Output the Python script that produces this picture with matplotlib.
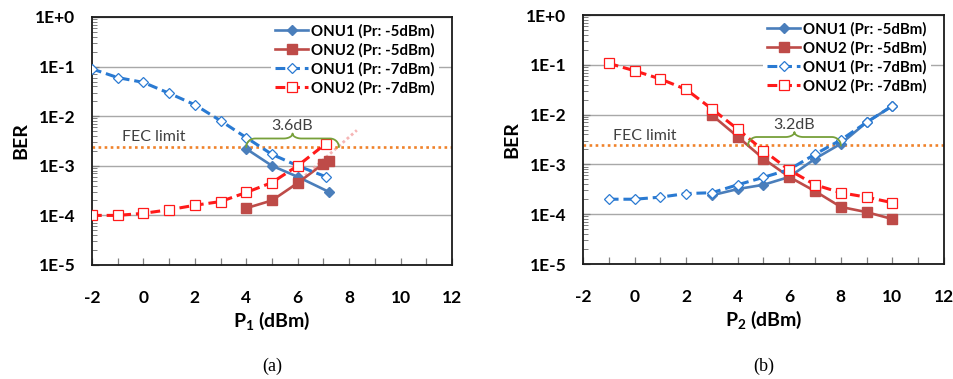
import numpy as np
import matplotlib
matplotlib.use("Agg")
import matplotlib.pyplot as plt
from matplotlib.ticker import MultipleLocator, LogLocator, NullFormatter, FixedLocator, FixedFormatter

plt.rcParams['font.family'] = ['Lato', 'DejaVu Sans']
plt.rcParams['mathtext.fontset'] = 'custom'
plt.rcParams['mathtext.bf'] = 'Lato:bold'
plt.rcParams['mathtext.rm'] = 'Lato'
plt.rcParams['axes.unicode_minus'] = False

# ---------------- data: panel (a) ----------------
a_onu1_p5_x = [4, 5, 6, 7.2]
a_onu1_p5_ber = [2.2e-3, 1.0e-3, 6.0e-4, 3.0e-4]
a_onu2_p5_x = [4, 5, 6, 7, 7.2]
a_onu2_p5_ber = [1.4e-4, 2.0e-4, 4.5e-4, 1.1e-3, 1.25e-3]
a_onu1_p7_x = [-2, -1, 0, 1, 2, 3, 4, 5, 6, 7.1]
a_onu1_p7_ber = [9.0e-2, 6.0e-2, 4.8e-2, 2.9e-2, 1.7e-2, 8.1e-3, 3.7e-3, 1.7e-3, 1.0e-3, 6.0e-4]
a_onu2_p7_x = [-2, -1, 0, 1, 2, 3, 4, 5, 6, 7.1]
a_onu2_p7_ber = [1.0e-4, 1.0e-4, 1.1e-4, 1.3e-4, 1.6e-4, 1.9e-4, 2.9e-4, 4.6e-4, 1.0e-3, 2.8e-3]
a_trend_x = [5.8, 8.3]
a_trend_ber = [3.8e-4, 5.2e-3]
a_penalty_span = (4.0, 7.6)
a_penalty_label = "3.6dB"

# ---------------- data: panel (b) ----------------
b_onu1_p5_x = [3, 4, 5, 6, 7, 8, 9, 10]
b_onu1_p5_ber = [2.4e-4, 3.2e-4, 3.9e-4, 5.6e-4, 1.3e-3, 2.6e-3, 7.0e-3, 1.5e-2]
b_onu2_p5_x = [3, 4, 5, 6, 7, 8, 9, 10]
b_onu2_p5_ber = [9.8e-3, 3.6e-3, 1.3e-3, 5.6e-4, 2.9e-4, 1.4e-4, 1.1e-4, 8.0e-5]
b_onu1_p7_x = [-1, 0, 1, 2, 3, 4, 5, 6, 7, 8, 9, 10]
b_onu1_p7_ber = [2.0e-4, 2.0e-4, 2.2e-4, 2.6e-4, 2.7e-4, 3.9e-4, 5.5e-4, 7.9e-4, 1.6e-3, 3.1e-3, 7.0e-3, 1.5e-2]
b_onu2_p7_x = [-1, 0, 1, 2, 3, 4, 5, 6, 7, 8, 9, 10]
b_onu2_p7_ber = [1.07e-1, 7.6e-2, 5.2e-2, 3.2e-2, 1.3e-2, 5.1e-3, 1.9e-3, 7.7e-4, 3.9e-4, 2.7e-4, 2.2e-4, 1.7e-4]
b_penalty_span = (4.4, 8.0)
b_penalty_label = "3.2dB"

fec_limit = 2.4e-3
series_labels = ["ONU1 (Pr: -5dBm)", "ONU2 (Pr: -5dBm)", "ONU1 (Pr: -7dBm)", "ONU2 (Pr: -7dBm)"]
y_ticks = [1e0, 1e-1, 1e-2, 1e-3, 1e-4, 1e-5]
y_tick_labels = ["1E+0", "1E-1", "1E-2", "1E-3", "1E-4", "1E-5"]
x_ticks = [-2, 0, 2, 4, 6, 8, 10, 12]

C_ONU1_SOLID = "#4a7ebb"
C_ONU2_SOLID = "#be4b48"
C_ONU1_DASH = "#2a7ad2"
C_ONU2_DASH = "#ff1a1a"
C_FEC = "#f0822a"
C_BRACE = "#77a03a"
C_NOTE = "#404040"


def brace_points(x0, x1, base, h=0.17, c=0.1, r=0.35, n=30):
    """Horizontal curly brace sitting on y=base (log axis), opening downward."""
    xm = 0.5 * (x0 + x1)
    t = np.linspace(0, np.pi / 2, n)
    xs = list(x0 + r * (1 - np.cos(t)))
    ys = list(h * np.sin(t))
    xs += list(xm - r + r * np.sin(t))
    ys += list(h + c * (1 - np.cos(t)))
    xs += list(xm + r - r * np.sin(t[::-1]))
    ys += list(h + c * (1 - np.cos(t[::-1])))
    xs += list(x1 - r * (1 - np.cos(t[::-1])))
    ys += list(h * np.sin(t[::-1]))
    return np.array(xs), base * 10 ** np.array(ys)


def draw_panel(ax, s1, s2, s3, s4, span, span_label, xlabel, tag, trend=None):
    ax.plot(*s1, color=C_ONU1_SOLID, lw=1.9, marker="D", ms=5.5, mfc=C_ONU1_SOLID,
            mec=C_ONU1_SOLID, label=series_labels[0], zorder=3)
    ax.plot(*s2, color=C_ONU2_SOLID, lw=1.9, marker="s", ms=7, mfc=C_ONU2_SOLID,
            mec=C_ONU2_SOLID, label=series_labels[1], zorder=3)
    ax.plot(*s3, color=C_ONU1_DASH, lw=2.2, ls=(0, (3.2, 1.6)), marker="D", ms=5.5,
            mfc="white", mec=C_ONU1_DASH, mew=0.9, label=series_labels[2], zorder=4)
    ax.plot(*s4, color=C_ONU2_DASH, lw=2.2, ls=(0, (3.2, 1.6)), marker="s", ms=6.5,
            mfc="white", mec=C_ONU2_DASH, mew=0.9, label=series_labels[3], zorder=4)
    if trend is not None:
        ax.plot(*trend, color="#f4a3a3", lw=2.0, ls=(0, (1, 1)), alpha=0.8, zorder=2)

    ax.axhline(fec_limit, color=C_FEC, lw=1.9, ls=(0, (1, 1.3)), zorder=2)
    ax.text(-0.85, fec_limit * 10 ** 0.2, "FEC limit", color=C_NOTE, fontsize=11.5,
            ha="left", va="center")

    bx, by = brace_points(span[0], span[1], fec_limit)
    ax.plot(bx, by, color=C_BRACE, lw=1.3, zorder=5)
    ax.text(0.5 * (span[0] + span[1]), fec_limit * 10 ** 0.42, span_label,
            color=C_NOTE, fontsize=11.5, ha="center", va="center", zorder=5)

    ax.set_yscale("log")
    ax.set_ylim(1e-5, 1e0)
    ax.set_xlim(-2, 12)
    ax.yaxis.set_major_locator(FixedLocator(y_ticks))
    ax.yaxis.set_major_formatter(FixedFormatter(y_tick_labels))
    ax.yaxis.set_minor_locator(LogLocator(base=10, subs=np.arange(2, 10), numticks=20))
    ax.yaxis.set_minor_formatter(NullFormatter())
    ax.xaxis.set_major_locator(FixedLocator(x_ticks))
    ax.xaxis.set_minor_locator(MultipleLocator(1))

    ax.tick_params(axis="x", which="both", direction="in", length=5, width=0.9,
                   color="#808080", pad=18, labelsize=12.5)
    ax.tick_params(axis="y", which="major", direction="in", length=5, width=0.9,
                   color="#808080", pad=12, labelsize=12.5)
    ax.tick_params(axis="y", which="minor", direction="in", length=3.5, width=0.7,
                   color="#808080")
    for lab in ax.get_xticklabels() + ax.get_yticklabels():
        lab.set_fontweight("bold")

    ax.grid(True, which="major", axis="y", color="#a8a8a8", lw=1.0, zorder=0)
    for sp in ax.spines.values():
        sp.set_color("#1a1a1a")
        sp.set_linewidth(1.3)

    ax.set_ylabel("BER", fontsize=14, fontweight="bold", labelpad=4)
    ax.set_xlabel(xlabel, fontsize=14, fontweight="bold", labelpad=3)

    leg = ax.legend(loc="upper right", bbox_to_anchor=(0.965, 0.99), frameon=True,
                    fancybox=False, edgecolor="none", facecolor="white", framealpha=1,
                    fontsize=10.8, handlelength=2.2, handletextpad=0.2,
                    labelspacing=0.3, borderpad=0.3, borderaxespad=0)
    for t in leg.get_texts():
        t.set_fontweight("bold")
    leg.set_zorder(6)

    ax.text(0.5, -0.41, tag, transform=ax.transAxes, ha="center", va="center",
            fontsize=13, family="Liberation Serif")


fig = plt.figure(figsize=(9.54, 3.79), dpi=100)
ax_a = fig.add_axes([0.0964, 0.3008, 0.3774, 0.6544])
ax_b = fig.add_axes([0.6111, 0.3034, 0.3784, 0.6570])

draw_panel(ax_a,
           (a_onu1_p5_x, a_onu1_p5_ber), (a_onu2_p5_x, a_onu2_p5_ber),
           (a_onu1_p7_x, a_onu1_p7_ber), (a_onu2_p7_x, a_onu2_p7_ber),
           a_penalty_span, a_penalty_label, r"$\mathbf{P_1}$ (dBm)", "(a)",
           trend=(a_trend_x, a_trend_ber))
draw_panel(ax_b,
           (b_onu1_p5_x, b_onu1_p5_ber), (b_onu2_p5_x, b_onu2_p5_ber),
           (b_onu1_p7_x, b_onu1_p7_ber), (b_onu2_p7_x, b_onu2_p7_ber),
           b_penalty_span, b_penalty_label, r"$\mathbf{P_2}$ (dBm)", "(b)")

fig.savefig("out.png", dpi=100)
